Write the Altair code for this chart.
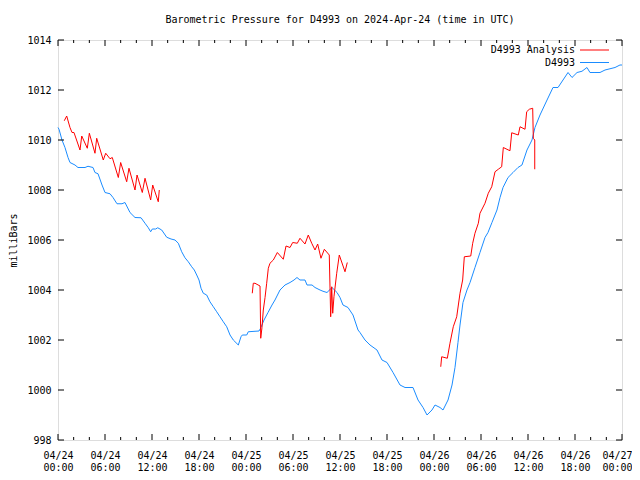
import altair as alt
import pandas as pd

# ---- data (hours after 2024-04-24 00:00 UTC, pressure in mb) ----
blue_hours = [0.0, 0.13, 0.51, 0.89, 1.28, 1.53, 2.17, 2.55, 3.45, 3.83, 4.47, 4.72, 5.11, 5.62, 6.00,
              6.64, 7.02, 7.53, 8.17, 8.55, 9.19, 9.83, 10.60, 11.11, 11.53, 11.83, 12.04, 12.47, 12.73,
              13.24, 13.88, 14.43, 14.94, 15.36, 15.79, 16.21, 16.63, 17.07, 17.40, 17.71, 18.00, 18.26,
              18.55, 18.98, 19.40, 19.83, 20.26, 20.68, 21.10, 21.54, 21.96, 22.38, 23.02, 23.36, 23.53,
              24.09, 24.29, 25.66, 25.83, 26.30, 26.81, 27.32, 27.70, 28.34, 28.98, 29.62, 30.13, 30.51,
              30.89, 31.53, 31.79, 32.43, 32.81, 33.45, 33.83, 34.34, 34.98, 35.62, 36.00, 36.38, 37.02,
              37.66, 38.30, 38.55, 39.19, 39.83, 40.72, 41.36, 42.00, 42.77, 43.66, 44.30, 45.32, 45.96,
              46.60, 47.11, 47.74, 48.13, 48.77, 49.15, 49.79, 50.30, 50.68, 51.06, 51.32, 51.70, 52.21,
              52.60, 53.23, 53.87, 54.51, 54.89, 55.40, 56.04, 56.43, 56.81, 57.45, 58.09, 58.72, 59.23,
              59.87, 60.51, 60.89, 61.53, 62.43, 63.19, 63.83, 64.47, 65.11, 65.62, 66.26, 66.89, 67.53,
              67.91, 68.55, 69.19, 69.83, 70.47, 71.11, 71.74, 72.0]
blue_mb = [1010.5, 1010.43, 1010.0, 1009.7, 1009.3, 1009.1, 1009.0, 1008.9, 1008.9, 1008.95, 1008.9,
           1008.7, 1008.65, 1008.2, 1007.9, 1007.85, 1007.7, 1007.45, 1007.45, 1007.5, 1007.1, 1006.9,
           1006.89, 1006.67, 1006.49, 1006.33, 1006.44, 1006.44, 1006.49, 1006.4, 1006.11, 1006.04,
           1006.0, 1005.87, 1005.53, 1005.29, 1005.13, 1004.93, 1004.8, 1004.6, 1004.4, 1004.07,
           1003.87, 1003.8, 1003.53, 1003.33, 1003.13, 1002.93, 1002.73, 1002.53, 1002.2, 1002.0,
           1001.8, 1002.13, 1002.2, 1002.2, 1002.33, 1002.36, 1002.45, 1002.8, 1003.1, 1003.4, 1003.6,
           1004.0, 1004.2, 1004.3, 1004.4, 1004.5, 1004.4, 1004.4, 1004.2, 1004.2, 1004.1, 1004.0,
           1003.95, 1003.9, 1004.1, 1003.9, 1003.7, 1003.4, 1003.3, 1003.0, 1002.4, 1002.3, 1002.0,
           1001.8, 1001.6, 1001.2, 1001.1, 1000.7, 1000.2, 1000.1, 1000.1, 999.6, 999.3, 999.0, 999.2,
           999.4, 999.3, 999.2, 999.6, 1000.2, 1000.9, 1001.9, 1002.6, 1003.5, 1004.0, 1004.3, 1004.9,
           1005.5, 1006.1, 1006.3, 1006.7, 1007.2, 1007.7, 1008.1, 1008.5, 1008.7, 1008.9, 1009.0,
           1009.6, 1010.0, 1010.5, 1011.0, 1011.6, 1012.1, 1012.1, 1012.4, 1012.7, 1012.5, 1012.7,
           1012.75, 1012.9, 1012.7, 1012.7, 1012.7, 1012.8, 1012.85, 1012.9, 1013.0, 1013.0]

red1_hours = [0.80, 1.11, 1.53, 1.79, 2.04, 2.81, 3.03, 3.74, 4.00, 4.72, 4.94, 5.78, 6.09, 6.64, 6.93,
              7.70, 8.00, 8.77, 9.06, 9.83, 10.09, 10.76, 11.11, 11.83, 12.09, 12.80, 12.93]
red1_mb = [1010.77, 1010.96, 1010.5, 1010.3, 1010.3, 1009.6, 1010.16, 1009.67, 1010.27, 1009.47,
           1010.07, 1009.2, 1009.47, 1009.25, 1009.3, 1008.5, 1009.1, 1008.33, 1008.87, 1008.0,
           1008.6, 1007.9, 1008.47, 1007.6, 1008.2, 1007.53, 1008.0]

red2_hours = [24.80, 24.93, 25.15, 25.79, 25.88, 26.04, 26.21, 26.43, 26.64, 26.85, 27.06, 27.49, 28.00,
              28.76, 29.11, 29.62, 29.96, 30.55, 30.89, 31.53, 31.95, 32.39, 32.81, 33.15, 33.57, 34.00,
              34.63, 34.81, 34.94, 35.07, 35.23, 35.58, 35.91, 36.64, 36.93]
red2_mb = [1003.87, 1004.27, 1004.27, 1004.16, 1002.07, 1002.5, 1003.2, 1003.7, 1004.27, 1004.87,
           1005.07, 1005.2, 1005.5, 1005.23, 1005.76, 1005.7, 1005.9, 1005.87, 1006.07, 1005.84,
           1006.2, 1005.87, 1005.6, 1005.84, 1005.27, 1005.63, 1005.4, 1002.93, 1004.13, 1003.07,
           1003.73, 1004.67, 1005.4, 1004.73, 1005.1]

red3_hours = [48.86, 48.98, 49.70, 50.04, 50.46, 50.90, 51.32, 51.66, 51.87, 52.69, 52.94, 53.23, 53.66,
              53.87, 54.51, 54.93, 55.37, 55.79, 56.21, 56.64, 56.85, 57.70, 57.92, 58.76, 58.98, 59.62,
              59.83, 60.17, 60.60, 60.68, 60.86, 60.86]
red3_mb = [1000.93, 1001.33, 1001.27, 1001.87, 1002.53, 1002.93, 1003.87, 1004.4, 1005.33, 1005.36,
           1005.87, 1006.27, 1006.67, 1007.07, 1007.47, 1007.87, 1008.13, 1008.73, 1008.83, 1008.93,
           1009.7, 1009.57, 1010.29, 1010.2, 1010.53, 1010.43, 1011.13, 1011.23, 1011.27, 1010.07,
           1010.0, 1008.83]

major_ticks = [0, 6, 12, 18, 24, 30, 36, 42, 48, 54, 60, 66, 72]
minor_ticks = [2, 4, 8, 10, 14, 16, 20, 22, 26, 28, 32, 34, 38, 40, 44, 46, 50, 52, 56, 58, 62, 64, 68, 70]
y_ticks = [998, 1000, 1002, 1004, 1006, 1008, 1010, 1012, 1014]

legend_labels = ["D4993 Analysis", "D4993"]
RED = "#ff0000"
BLUE = "#1a8cff"
FONT = "DejaVu Sans Mono"

# ---- tables ----
blue_df = pd.DataFrame({"h": blue_hours, "mb": blue_mb})
red_parts = []
for seg, (hh, mm) in enumerate([(red1_hours, red1_mb), (red2_hours, red2_mb), (red3_hours, red3_mb)]):
    part = pd.DataFrame({"h": hh, "mb": mm})
    part["seg"] = seg
    part["idx"] = range(len(part))
    red_parts.append(part)
red_df = pd.concat(red_parts, ignore_index=True)

W, H = 564, 400
xs = alt.Scale(domain=[0, 72], nice=False, zero=False)
ys = alt.Scale(domain=[998, 1014], nice=False, zero=False)

label_expr = ("['04/' + (24 + floor(datum.value / 24)), "
              "(datum.value % 24 < 10 ? '0' : '') + (datum.value % 24) + ':00']")

x_axis = alt.Axis(values=major_ticks, labelExpr=label_expr, tickSize=0, domain=False, grid=False,
                  title=None, labelPadding=10, labelLineHeight=12, labelAngle=0,
                  labelOverlap=False, labelFlush=False, labelFont=FONT, labelFontSize=10,
                  labelColor="black",
                  labelOffset={"condition": {"test": "datum.value == 72", "value": -5}, "value": 0})
y_axis = alt.Axis(values=y_ticks, tickSize=0, domain=False, grid=False, format="d",
                  title="milliBars", titleAngle=-90, titleX=-42, titleY=H / 2,
                  titleBaseline="alphabetic", titleAlign="center", titleFont=FONT,
                  titleFontSize=10, titleFontWeight="normal", titleColor="black",
                  labelPadding=7, labelFont=FONT, labelFontSize=10, labelColor="black",
                  labelOverlap=False, labelFlush=False)

X = alt.X("h:Q", scale=xs, axis=x_axis)
Y = alt.Y("mb:Q", scale=ys, axis=y_axis)

blue_line = alt.Chart(blue_df).mark_line(color=BLUE, strokeWidth=1).encode(x=X, y=Y)
red_line = alt.Chart(red_df).mark_line(color=RED, strokeWidth=1).encode(
    x=X, y=Y, detail="seg:N", order="idx:Q")

maj_df = pd.DataFrame({"h": major_ticks})
min_df = pd.DataFrame({"h": minor_ticks})
yt_df = pd.DataFrame({"mb": y_ticks})

tick = dict(color="black", strokeWidth=1)
x_maj_bot = alt.Chart(maj_df).mark_rule(**tick).encode(x=X, y=alt.value(H), y2=alt.value(H - 6))
x_maj_top = alt.Chart(maj_df).mark_rule(**tick).encode(x=X, y=alt.value(0), y2=alt.value(6))
x_min_bot = alt.Chart(min_df).mark_rule(**tick).encode(x=X, y=alt.value(H), y2=alt.value(H - 3))
x_min_top = alt.Chart(min_df).mark_rule(**tick).encode(x=X, y=alt.value(0), y2=alt.value(3))
y_left = alt.Chart(yt_df).mark_rule(**tick).encode(y=Y, x=alt.value(0), x2=alt.value(6))
y_right = alt.Chart(yt_df).mark_rule(**tick).encode(y=Y, x=alt.value(W), x2=alt.value(W - 6))

# ---- legend (gnuplot style: label left of sample line) ----
leg_txt1 = alt.Chart(pd.DataFrame({"t": [legend_labels[0]]})).mark_text(
    align="right", baseline="middle", font=FONT, fontSize=10, color="black").encode(
    text="t:N", x=alt.value(517), y=alt.value(10))
leg_txt2 = alt.Chart(pd.DataFrame({"t": [legend_labels[1]]})).mark_text(
    align="right", baseline="middle", font=FONT, fontSize=10, color="black").encode(
    text="t:N", x=alt.value(517), y=alt.value(22.5))
leg_red = alt.Chart(pd.DataFrame({"t": [0]})).mark_rule(color=RED, strokeWidth=1).encode(
    x=alt.value(522), x2=alt.value(551), y=alt.value(10))
leg_blue = alt.Chart(pd.DataFrame({"t": [0]})).mark_rule(color=BLUE, strokeWidth=1).encode(
    x=alt.value(522), x2=alt.value(551), y=alt.value(22.5))

chart = alt.layer(
    blue_line, red_line, x_maj_bot, x_maj_top, x_min_bot, x_min_top, y_left, y_right,
    leg_txt1, leg_txt2, leg_red, leg_blue
).properties(
    width=W, height=H,
    title=alt.TitleParams("Barometric Pressure for D4993 on 2024-Apr-24 (time in UTC)",
                          font=FONT, fontSize=10, fontWeight="normal", color="black",
                          anchor="middle", offset=10),
    autosize=alt.AutoSizeParams(type="none"),
    padding={"left": 50, "top": 32, "right": 10, "bottom": 32},
).configure_view(stroke="black", strokeWidth=1).configure(background="white")

chart.save("out.html", embed_options={"renderer": "svg", "actions": False})
